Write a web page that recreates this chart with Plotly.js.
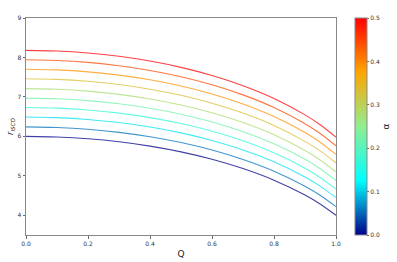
<!DOCTYPE html>
<html>
<head>
<meta charset="utf-8">
<script src="https://cdn.plot.ly/plotly-3.0.1.min.js"></script>
<style>html,body{margin:0;padding:0;background:#fff;}#chart{width:397px;height:262px;}</style>
</head>
<body>
<div id="chart"></div>
<script>
// Charge values
const Q = [0, 0.1, 0.2, 0.3, 0.4, 0.5, 0.6, 0.7, 0.8, 0.9, 0.95, 1.0];
// alpha values of each curve
const alphas = [0, 0.0556, 0.1111, 0.1667, 0.2222, 0.2778, 0.3333, 0.3889, 0.4444, 0.5];
// r_ISCO for each alpha
const r0 = [6.00, 5.985, 5.94, 5.863, 5.753, 5.607, 5.42, 5.185, 4.89, 4.513, 4.28, 4.00];
const r1 = [6.24, 6.225, 6.179, 6.101, 5.990, 5.843, 5.654, 5.416, 5.118, 4.737, 4.501, 4.218];
const r2 = [6.49, 6.475, 6.429, 6.350, 6.238, 6.088, 5.897, 5.657, 5.356, 4.970, 4.732, 4.446];
const r3 = [6.73, 6.715, 6.668, 6.589, 6.475, 6.324, 6.131, 5.888, 5.583, 5.194, 4.953, 4.664];
const r4 = [6.97, 6.954, 6.907, 6.827, 6.712, 6.560, 6.364, 6.119, 5.811, 5.418, 5.174, 4.882];
const r5 = [7.21, 7.194, 7.147, 7.065, 6.949, 6.795, 6.598, 6.349, 6.038, 5.640, 5.394, 5.098];
const r6 = [7.46, 7.444, 7.396, 7.314, 7.196, 7.041, 6.841, 6.590, 6.276, 5.873, 5.625, 5.326];
const r7 = [7.70, 7.684, 7.635, 7.552, 7.434, 7.276, 7.075, 6.821, 6.503, 6.097, 5.846, 5.544];
const r8 = [7.94, 7.924, 7.875, 7.791, 7.671, 7.512, 7.308, 7.052, 6.731, 6.321, 6.067, 5.762];
const r9 = [8.18, 8.164, 8.114, 8.029, 7.908, 7.748, 7.542, 7.283, 6.959, 6.544, 6.288, 5.980];
const curves = [r0, r1, r2, r3, r4, r5, r6, r7, r8, r9];

const xTicks = [0, 0.2, 0.4, 0.6, 0.8, 1.0];
const xTickText = ["0.0", "0.2", "0.4", "0.6", "0.8", "1.0"];
const yTicks = [4, 5, 6, 7, 8, 9];
const cbTicks = [0, 0.1, 0.2, 0.3, 0.4, 0.5];
const cbTickText = ["0.0", "0.1", "0.2", "0.3", "0.4", "0.5"];

const stops = [[0, [0, 0, 139]], [0.25, [0, 255, 255]], [0.5, [144, 238, 144]], [0.75, [255, 165, 0]], [1, [255, 0, 0]]];
const colorscale = stops.map(s => [s[0], `rgb(${s[1][0]},${s[1][1]},${s[1][2]})`]);
function colorAt(t) {
  for (let i = 0; i < stops.length - 1; i++) {
    const a = stops[i], b = stops[i + 1];
    if (t <= b[0]) {
      const f = (t - a[0]) / (b[0] - a[0]);
      const c = a[1].map((v, j) => Math.round(v + (b[1][j] - v) * f));
      return `rgb(${c[0]},${c[1]},${c[2]})`;
    }
  }
  return 'rgb(255,0,0)';
}

const traces = curves.map((r, k) => ({
  x: Q, y: r, type: 'scatter', mode: 'lines',
  line: {color: colorAt(alphas[k] / 0.5), width: 1.1, shape: 'spline', smoothing: 0.6},
  opacity: 0.75, showlegend: false, hoverinfo: 'skip'
}));
traces.push({
  x: [0.5, 0.5], y: [-10, -10], type: 'scatter', mode: 'markers', showlegend: false,
  marker: {color: [0, 0.5], cmin: 0, cmax: 0.5, colorscale: colorscale, showscale: true, size: 1,
    colorbar: {
      x: 355 / 397, xanchor: 'left', xref: 'container', xpad: 0, ypad: 0,
      y: 0.5, yanchor: 'middle', len: 1, lenmode: 'fraction',
      thickness: 12, thicknessmode: 'pixels', outlinewidth: 1, outlinecolor: '#888',
      ticks: 'outside', ticklen: 2, tickwidth: 0.8, tickcolor: '#444',
      tickvals: cbTicks, ticktext: cbTickText,
      tickfont: {family: 'DejaVu Sans', size: 6, color: '#333'},
      title: {text: 'α', side: 'right', font: {family: 'DejaVu Sans', size: 9, color: '#222'}}
    }}
});

const axisCommon = {
  showline: true, linecolor: '#888', linewidth: 1, mirror: true, showgrid: false, zeroline: false,
  ticks: 'outside', ticklen: 2.5, tickwidth: 0.8, tickcolor: '#444',
  tickfont: {family: 'DejaVu Sans', size: 6, color: '#333'}
};

const layout = {
  width: 397, height: 262,
  margin: {l: 26, r: 61, t: 18, b: 27, autoexpand: false},
  paper_bgcolor: '#fff', plot_bgcolor: '#fff',
  xaxis: Object.assign({}, axisCommon, {
    range: [0, 1], tickvals: xTicks, ticktext: xTickText,
    title: {text: 'Q', font: {family: 'DejaVu Sans', size: 9, color: '#222'}, standoff: 4}
  }),
  yaxis: Object.assign({}, axisCommon, {
    range: [3.5, 9], tickvals: yTicks,
    title: {text: '<i>r</i><sub><i>ISCO</i></sub>', font: {family: 'DejaVu Sans', size: 8, color: '#222'}, standoff: 2}
  })
};

Plotly.newPlot('chart', traces, layout, {displayModeBar: false, staticPlot: true});
</script>
</body>
</html>
